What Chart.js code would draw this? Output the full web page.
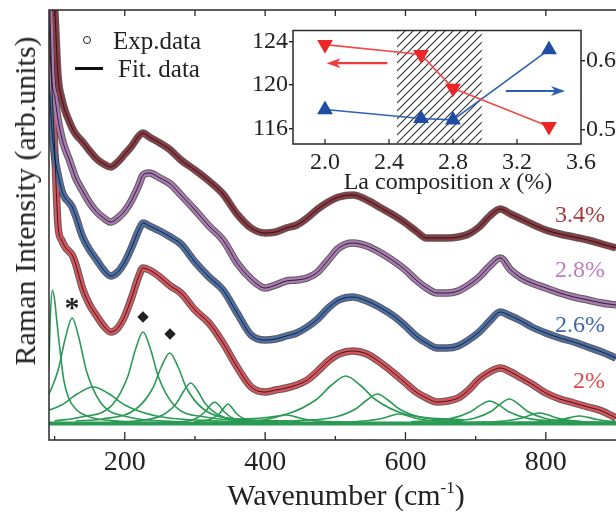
<!DOCTYPE html>
<html>
<head>
<meta charset="utf-8">
<script src="https://cdn.jsdelivr.net/npm/chart.js@4.4.1/dist/chart.umd.min.js"></script>
<style>
  html, body { margin: 0; padding: 0; background: #fff; }
  #wrap { position: relative; width: 616px; height: 512px; overflow: hidden;
          font-family: "Liberation Serif", "Times New Roman", serif; color: #222; }
  #main { position: absolute; left: 0; top: 0; }
  #inset { position: absolute; left: 245px; top: 15px; }
  .lbl { position: absolute; white-space: nowrap; line-height: 1; }
  .mid { transform: translate(-50%, -50%); }
</style>
</head>
<body>
<div id="wrap">
  <canvas id="main" width="616" height="512"></canvas>
  <canvas id="inset" width="371" height="180"></canvas>

  <!-- legend -->
  <div style="position:absolute;left:83px;top:36px;width:8px;height:8px;border:1.5px solid #222;border-radius:50%;box-sizing:border-box"></div>
  <div style="position:absolute;left:75px;top:67px;width:28px;height:3px;background:#111"></div>
  <div class="lbl" style="left:113px;top:27.5px;font-size:25px">Exp.data</div>
  <div class="lbl" style="left:118px;top:55.5px;font-size:25px">Fit. data</div>

  <!-- axis titles -->
  <div class="lbl" style="left:25px;top:201px;font-size:30px;transform:translate(-50%,-50%) rotate(-90deg)">Raman Intensity (arb.units)</div>
  <div class="lbl mid" style="left:346px;top:494px;font-size:30px">Wavenumber (cm<sup style="font-size:17px;vertical-align:12px">-1</sup>)</div>
  <div class="lbl mid" style="left:448px;top:181px;font-size:24px">La composition <i>x</i> (%)</div>

  <!-- sample labels -->
  <div class="lbl" style="right:11px;top:202px;font-size:24px;color:#A53A3E">3.4%</div>
  <div class="lbl" style="right:11px;top:257px;font-size:24px;color:#C27BBE">2.8%</div>
  <div class="lbl" style="right:11px;top:312px;font-size:24px;color:#3E68AE">2.6%</div>
  <div class="lbl" style="right:11px;top:368px;font-size:24px;color:#E4484F">2%</div>

  <!-- mode marks -->
  <div class="lbl" style="left:62px;top:292px;width:20px;text-align:center;font-size:30px;font-weight:bold">*</div>
  <div class="lbl mid" style="left:143px;top:316px;font-size:15px;font-family:'DejaVu Sans'">&#9670;</div>
  <div class="lbl mid" style="left:170px;top:333px;font-size:15px;font-family:'DejaVu Sans'">&#9670;</div>
</div>

<script>
// ---- Raman spectra (arb. units, offset stacked) ----
const wavenumber = [92, 96, 100, 105, 110, 115, 120, 125, 130, 140, 150, 160, 170, 180, 190, 200, 210, 220, 226, 235,
  250, 265, 280, 300, 320, 340, 360, 380, 400, 415, 430, 445, 460, 475, 490, 505, 525, 545, 565, 585,
  600, 615, 630, 645, 660, 675, 690, 705, 720, 735, 750, 765, 780, 800, 820, 840, 860, 880, 900];

const int34 = [520, 480, 434, 363, 342, 329, 320, 312, 306, 298, 289, 281, 276, 273, 278, 286, 294, 304, 307, 303,
  297, 290, 280, 270, 259, 246, 226, 212, 207, 208, 212, 215, 222, 231, 238, 243, 245, 240, 232, 224,
  217, 209, 202, 202, 202, 203, 206, 213, 224, 231, 226, 221, 216, 210, 206, 203, 200, 196, 192];
const int28 = [470, 363, 344, 320, 303, 291, 282, 272, 262, 249, 237, 228, 222, 218, 222, 229, 240, 255, 265, 267,
  262, 256, 245, 230, 214, 200, 177, 161, 152, 155, 159, 160, 162, 168, 180, 192, 197, 194, 187, 178,
  170, 160, 152, 147, 147, 149, 155, 163, 174, 182, 170, 162, 157, 152, 147, 143, 140, 137, 135];
const int26 = [360, 312, 284, 265, 250, 242, 238, 233, 224, 203, 190, 180, 170, 164, 168, 178, 193, 210, 217, 214,
  209, 203, 196, 178, 163, 150, 127, 105, 100, 101, 104, 107, 113, 121, 132, 140, 143, 139, 132, 123,
  114, 104, 97, 92, 92, 94, 100, 108, 119, 128, 124, 119, 113, 107, 102, 98, 93, 88, 82];
const int2 = [415, 354, 292, 213, 200, 193, 189, 185, 176, 151, 135, 124, 114, 108, 112, 124, 143, 164, 172, 170,
  163, 154, 147, 130, 117, 97, 73, 53, 48, 50, 52, 55, 60, 69, 79, 86, 89, 86, 77, 66,
  57, 48, 42, 38, 39, 42, 50, 61, 68, 72, 68, 62, 56, 47, 41, 37, 33, 29, 22];

// fitted components of the 2% spectrum, [wavenumber, intensity]
const p1 = [[90, 60], [92, 80], [94, 125], [97, 150], [100, 140], [103, 120], [106, 100], [110, 76], [113, 60], [120, 42], [130, 31], [150, 23], [190, 19], [260, 17]];
const p2 = [[45, 23], [85, 38], [105, 70], [115, 101], [125, 122], [135, 101], [145, 70], [165, 38], [205, 23], [280, 18]];
const p3 = [[65, 24], [110, 35], [132, 46], [155, 53], [178, 46], [200, 35], [245, 24], [335, 19], [450, 17]];
const p4 = [[100, 19], [138, 23], [182, 35], [204, 63], [215, 90], [226, 108], [237, 90], [248, 63], [270, 35], [314, 23], [400, 19]];
const p5 = [[130, 19], [168, 21], [216, 31], [240, 52], [252, 73], [264, 87], [276, 73], [288, 52], [312, 31], [360, 21], [450, 19]];
const p6 = [[180, 18], [214, 19], [254, 25], [274, 37], [284, 49], [294, 57], [304, 49], [314, 37], [334, 25], [374, 19], [450, 18]];
const p7 = [[250, 17.5], [272, 18], [300, 21], [314, 28], [321, 34], [328, 38], [335, 34], [342, 28], [356, 21], [384, 18], [420, 17.5]];
const p8 = [[299, 18], [323, 21], [335, 26.5], [341, 32], [347, 36], [353, 32], [359, 26.5], [371, 21], [395, 18]];
const p9 = [[330, 17.5], [380, 18.6], [405, 21], [418, 23.4], [430, 25], [442, 23.4], [455, 21], [480, 18.6], [530, 17.5]];
const p10 = [[347, 20], [431, 26], [473, 40.5], [494, 54.5], [515, 64], [536, 54.5], [557, 40.5], [599, 26], [683, 20]];
const p11 = [[440, 19], [500, 23], [530, 31.5], [545, 40], [560, 46], [575, 40], [590, 31.5], [620, 23], [680, 19]];
const p12 = [[491, 17.5], [541, 19], [566, 21.5], [578, 24], [591, 26], [604, 24], [616, 21.5], [641, 19], [691, 17.5]];
const p13 = [[608, 18.3], [664, 21.4], [692, 28], [706, 34.6], [720, 39], [734, 34.6], [748, 28], [776, 21.4], [832, 18.3]];
const p14 = [[648, 18.4], [698, 21.8], [723, 29], [735.5, 36.2], [748, 41], [760.5, 36.2], [773, 29], [798, 21.8], [848, 18.4]];
const p15 = [[691, 17.6], [741, 19], [766, 22], [778.5, 25], [791, 27], [803.5, 25], [816, 22], [841, 19], [891, 17.6]];
const p16 = [[748, 17.4], [798, 18.4], [823, 20.5], [835.5, 22.6], [848, 24], [860.5, 22.6], [873, 20.5], [898, 18.4], [950, 17.4]];
const baseline = [[92, 16.5], [900, 16.5]];
const peaks = [p1, p2, p3, p4, p5, p6, p7, p8, p9, p10, p11, p12, p13, p14, p15, p16];

const xLabelTicks = [200, 400, 600, 800];
const xMinorTicks = [100, 300, 500, 700];
const xTopTicks = [100, 200, 300, 400, 500, 600, 700, 800];

// ---- inset: La composition dependence ----
const laComp = [2.0, 2.6, 2.8, 3.4];
const modeShift = [123.7, 122.8, 119.7, 116.2];   // left axis, down triangles
const widthRatio = [0.529, 0.516, 0.514, 0.616];  // right axis, up triangles
const hatchRange = [2.45, 2.98];
const redArrow = [2.39, 2.01, 122];   // from, to, y (left axis)
const blueArrow = [3.13, 3.5, 0.556]; // from, to, y (right axis)
const insetTicksX = [2.0, 2.4, 2.8, 3.2, 3.6];
const insetTicksL = [116, 120, 124];
const insetTicksR = [0.5, 0.6];

Chart.defaults.font.family = '"Liberation Serif", "Times New Roman", serif';
Chart.defaults.color = '#222';

const pts = (ys) => wavenumber.map((x, i) => ({ x, y: ys[i] }));
const pairs = (arr) => arr.map(p => ({ x: p[0], y: p[1] }));

// frame lines and inward tick marks, placed with the chart's scales
function makeFrame(sides, tickSets) {
  return {
    id: 'frame',
    afterDraw(chart) {
      const { ctx, chartArea: a, scales } = chart;
      ctx.save();
      ctx.strokeStyle = '#2a2a2a';
      ctx.lineWidth = 1.5;
      ctx.lineCap = 'square';
      ctx.beginPath();
      if (sides.includes('left')) { ctx.moveTo(a.left, a.top); ctx.lineTo(a.left, a.bottom); }
      if (sides.includes('right')) { ctx.moveTo(a.right, a.top); ctx.lineTo(a.right, a.bottom); }
      if (sides.includes('top')) { ctx.moveTo(a.left, a.top); ctx.lineTo(a.right, a.top); }
      if (sides.includes('bottom')) { ctx.moveTo(a.left, a.bottom); ctx.lineTo(a.right, a.bottom); }
      ctx.stroke();
      ctx.lineWidth = 1.3;
      ctx.lineCap = 'butt';
      ctx.beginPath();
      tickSets.forEach(t => {
        const s = scales[t.axis];
        t.values.forEach(v => {
          const x = s.getPixelForValue(v);
          const y0 = t.side === 'top' ? a.top : a.bottom;
          const y1 = t.side === 'top' ? a.top + t.len : a.bottom - t.len;
          ctx.moveTo(x, y0);
          ctx.lineTo(x, y1);
        });
      });
      ctx.stroke();
      ctx.restore();
    }
  };
}

// one spectrum = dark outline + coloured band (exp.) + black fit line
function spectrum(ys, color) {
  const common = { data: pts(ys), cubicInterpolationMode: 'monotone', pointRadius: 0, clip: 0, fill: false };
  return [
    { ...common, label: 'fit', borderColor: 'rgba(20,20,20,0.85)', borderWidth: 1, order: 0 },
    { ...common, label: 'exp', borderColor: color, borderWidth: 5.5, order: 1 },
    { ...common, label: 'edge', borderColor: 'rgba(45,35,38,0.75)', borderWidth: 7.5, order: 2 }
  ];
}

const green = '#2A9A55';
const greenSets = peaks.map(p => ({
  data: pairs(p), borderColor: green, borderWidth: 1.6, pointRadius: 0,
  cubicInterpolationMode: 'monotone', clip: 0, order: 3
}));
greenSets.push({ data: pairs(baseline), borderColor: green, borderWidth: 4, pointRadius: 0, clip: 0, order: 3 });

new Chart(document.getElementById('main'), {
  type: 'line',
  data: {
    datasets: [
      ...spectrum(int34, '#8A3A42'),
      ...spectrum(int28, '#A87BB2'),
      ...spectrum(int26, '#4B6FA9'),
      ...spectrum(int2, '#D9545D'),
      ...greenSets
    ]
  },
  options: {
    responsive: false,
    animation: false,
    events: [],
    layout: { padding: { top: 10, right: 0, bottom: 0, left: 0 } },
    plugins: { legend: { display: false }, tooltip: { enabled: false } },
    scales: {
      x: {
        type: 'linear', min: 92, max: 900,
        afterBuildTicks: s => { s.ticks = xLabelTicks.map(v => ({ value: v })); },
        afterFit: s => { s.height = 72; },
        grid: { display: false, drawTicks: false },
        border: { display: false },
        ticks: { font: { size: 28 }, color: '#222', padding: 6, maxRotation: 0, autoSkip: false }
      },
      y: {
        min: 0, max: 430,
        afterFit: s => { s.width = 49; },
        grid: { display: false, drawTicks: false },
        border: { display: false },
        ticks: { display: false }
      }
    }
  },
  plugins: [makeFrame(['left', 'top', 'bottom'], [
    { axis: 'x', values: xLabelTicks, len: 8, side: 'bottom' },
    { axis: 'x', values: xMinorTicks, len: 4, side: 'bottom' },
    { axis: 'x', values: xTopTicks, len: 6, side: 'top' }
  ])]
});

function drawArrow(ctx, xs, ys, arrow, color) {
  const x0 = xs.getPixelForValue(arrow[0]);
  const x1 = xs.getPixelForValue(arrow[1]);
  const y = ys.getPixelForValue(arrow[2]);
  const dir = Math.sign(x1 - x0);
  ctx.strokeStyle = color;
  ctx.fillStyle = color;
  ctx.lineWidth = 2.2;
  ctx.beginPath();
  ctx.moveTo(x0, y);
  ctx.lineTo(x1 - dir * 8, y);
  ctx.stroke();
  ctx.beginPath();
  ctx.moveTo(x1, y);
  ctx.lineTo(x1 - dir * 14, y - 5);
  ctx.lineTo(x1 - dir * 10, y);
  ctx.lineTo(x1 - dir * 14, y + 5);
  ctx.closePath();
  ctx.fill();
}

const insetDecor = {
  id: 'insetDecor',
  beforeDatasetsDraw(chart) {
    const { ctx, chartArea: a, scales } = chart;
    const x0 = scales.x.getPixelForValue(hatchRange[0]);
    const x1 = scales.x.getPixelForValue(hatchRange[1]);
    const pc = document.createElement('canvas');
    pc.width = 8; pc.height = 8;
    const g = pc.getContext('2d');
    g.strokeStyle = '#333';
    g.lineWidth = 1.1;
    g.beginPath();
    g.moveTo(0, 8); g.lineTo(8, 0);
    g.moveTo(-2, 2); g.lineTo(2, -2);
    g.moveTo(6, 10); g.lineTo(10, 6);
    g.stroke();
    ctx.save();
    ctx.fillStyle = ctx.createPattern(pc, 'repeat');
    ctx.fillRect(x0, a.top, x1 - x0, a.bottom - a.top);
    ctx.restore();
  },
  afterDatasetsDraw(chart) {
    const { ctx, scales } = chart;
    ctx.save();
    drawArrow(ctx, scales.x, scales.y, redArrow, '#EF3B3B');
    drawArrow(ctx, scales.x, scales.y1, blueArrow, '#2D5DB2');
    ctx.restore();
  }
};

const sideAxis = (pos, min, max, ticks, width, fmt) => ({
  position: pos, min, max,
  afterBuildTicks: s => { s.ticks = ticks.map(v => ({ value: v })); },
  afterFit: s => { s.width = width; },
  grid: { drawOnChartArea: false, drawTicks: true, tickLength: 4, color: '#222', lineWidth: 1.4 },
  border: { display: false },
  ticks: { font: { size: 24 }, color: '#222', padding: 1, callback: fmt }
});

new Chart(document.getElementById('inset'), {
  type: 'line',
  data: {
    datasets: [
      {
        data: laComp.map((x, i) => ({ x, y: modeShift[i] })), yAxisID: 'y',
        borderColor: '#F04A4A', borderWidth: 1.6, backgroundColor: '#EC2626',
        pointBackgroundColor: '#EC2626', pointBorderColor: '#EC2626',
        pointStyle: 'triangle', rotation: 180, pointRadius: 7.5, clip: false
      },
      {
        data: laComp.map((x, i) => ({ x, y: widthRatio[i] })), yAxisID: 'y1',
        borderColor: '#3060B4', borderWidth: 1.6, backgroundColor: '#1E4EA4',
        pointBackgroundColor: '#1E4EA4', pointBorderColor: '#1E4EA4',
        pointStyle: 'triangle', pointRadius: 7.5, clip: false
      }
    ]
  },
  options: {
    responsive: false,
    animation: false,
    events: [],
    layout: { padding: { top: 8, right: 0, bottom: 0, left: 0 } },
    plugins: { legend: { display: false }, tooltip: { enabled: false } },
    scales: {
      x: {
        type: 'linear', min: 1.8, max: 3.6,
        afterBuildTicks: s => { s.ticks = insetTicksX.map(v => ({ value: v })); },
        afterFit: s => { s.height = 51; },
        grid: { display: false, drawTicks: false },
        border: { display: false },
        ticks: { font: { size: 24 }, color: '#222', padding: 4, maxRotation: 0, autoSkip: false,
                 callback: v => Number(v).toFixed(1) }
      },
      y: sideAxis('left', 114.6, 125, insetTicksL, 48, v => String(v)),
      y1: sideAxis('right', 0.479, 0.644, insetTicksR, 35, v => Number(v).toFixed(1))
    }
  },
  plugins: [insetDecor, makeFrame(['left', 'right', 'top', 'bottom'], [
    { axis: 'x', values: insetTicksX.slice(0, 4), len: 5, side: 'bottom' }
  ])]
});
</script>
</body>
</html>
